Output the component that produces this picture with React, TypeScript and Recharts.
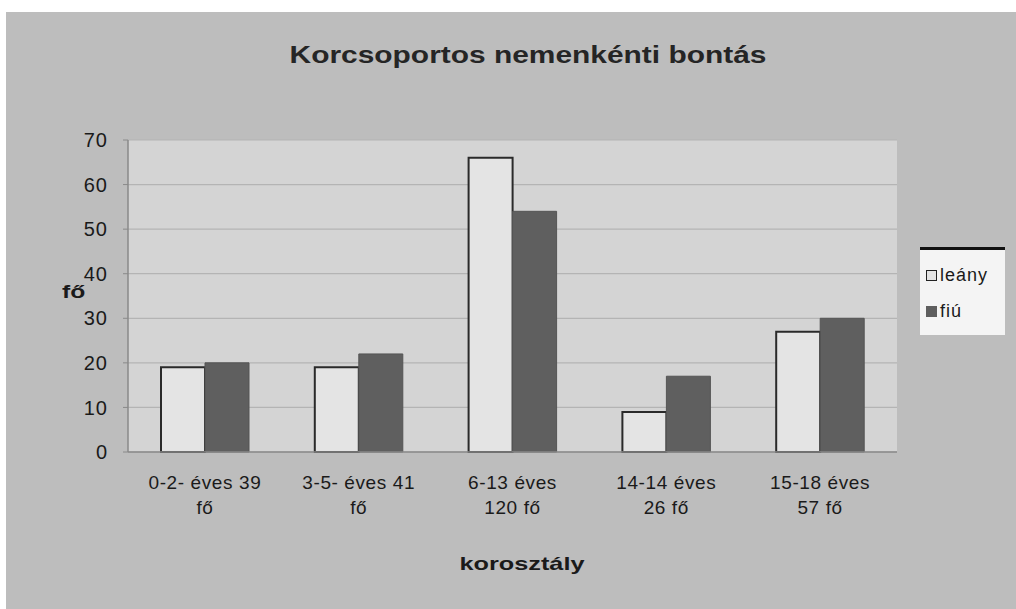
import React from "react";
import { BarChart, Bar, XAxis, YAxis, CartesianGrid } from "recharts";

const categories = [
  "0-2- éves 39\nfő",
  "3-5- éves 41\nfő",
  "6-13 éves\n120 fő",
  "14-14 éves\n26 fő",
  "15-18 éves\n57 fő",
];
const leany = [19, 19, 66, 9, 27];
const fiu = [20, 22, 54, 17, 30];
const yTicks = [0, 10, 20, 30, 40, 50, 60, 70];

const data = categories.map((cat, i) => ({ cat, leany: leany[i], fiu: fiu[i] }));

const FONT = "'Liberation Sans', Arial, sans-serif";

function CatTick({ x, y, payload }: any) {
  const lines = String(payload.value).split("\n");
  return (
    <text
      x={x}
      y={y}
      textAnchor="middle"
      fontFamily={FONT}
      fontSize={19}
      letterSpacing={0.6}
      fill="#1a1a1a"
    >
      {lines.map((l, i) => (
        <tspan key={i} x={x} dy={i === 0 ? 29 : 25}>
          {l}
        </tspan>
      ))}
    </text>
  );
}

function LegendBox() {
  const items = [
    { name: "leány", fill: "#e4e4e4", stroke: "#222" },
    { name: "fiú", fill: "#5e5e5e", stroke: "#5e5e5e" },
  ];
  return (
    <div
      style={{
        position: "absolute",
        left: 920,
        top: 247,
        width: 85,
        height: 88,
        background: "#f4f4f4",
        borderTop: "3px solid #111",
        fontFamily: FONT,
        fontSize: 18,
        letterSpacing: 1,
        color: "#1a1a1a",
        paddingTop: 7,
        boxSizing: "border-box",
      }}
    >
      {items.map((it) => (
        <div key={it.name} style={{ display: "flex", alignItems: "center", height: 36, paddingLeft: 6 }}>
          <span
            style={{
              display: "inline-block",
              width: 9,
              height: 9,
              background: it.fill,
              border: `1.5px solid ${it.stroke}`,
              marginRight: 3,
            }}
          />
          {it.name}
        </div>
      ))}
    </div>
  );
}

export default function App() {
  return (
    <div style={{ position: "absolute", left: 0, top: 0, width: 1016, height: 609, background: "#fff" }}>
      <div style={{ position: "absolute", left: 6, top: 12, width: 1010, height: 597, background: "#bdbdbd" }} />
      <div
        style={{
          position: "absolute",
          left: 0,
          top: 42,
          width: 1056,
          textAlign: "center",
          fontFamily: FONT,
          fontWeight: "bold",
          fontSize: 23,
          color: "#252525",
          transform: "scaleX(1.3)",
          transformOrigin: "528px 0",
        }}
      >
        Korcsoportos nemenkénti bontás
      </div>
      <div
        style={{
          position: "absolute",
          left: 62,
          top: 281,
          fontFamily: FONT,
          fontWeight: "bold",
          fontSize: 19,
          color: "#1a1a1a",
          transform: "scaleX(1.3)",
          transformOrigin: "0 0",
        }}
      >
        fő
      </div>
      <div
        style={{
          position: "absolute",
          left: 0,
          top: 553,
          width: 1044,
          textAlign: "center",
          fontFamily: FONT,
          fontWeight: "bold",
          fontSize: 19,
          color: "#1a1a1a",
          transform: "scaleX(1.33)",
          transformOrigin: "522px 0",
        }}
      >
        korosztály
      </div>
      <div style={{ position: "absolute", left: 0, top: 0 }}>
        <BarChart
          width={1016}
          height={609}
          data={data}
          margin={{ top: 140, right: 119, bottom: 97, left: 0 }}
          barGap={0}
          barCategoryGap={33}
        >
          <CartesianGrid vertical={false} fill="#d4d4d4" stroke="#b4b4b4" strokeWidth={1.2} />
          <XAxis
            dataKey="cat"
            height={60}
            tick={<CatTick />}
            tickLine={false}
            axisLine={{ stroke: "#8a8a8a", strokeWidth: 1.5 }}
            interval={0}
          />
          <YAxis
            width={128}
            domain={[0, 70]}
            ticks={yTicks}
            interval={0}
            tick={{ fontFamily: FONT, fontSize: 20, fill: "#1a1a1a", letterSpacing: 1 }}
            tickLine={{ stroke: "#8a8a8a" }}
            tickSize={5}
            tickMargin={15}
            axisLine={{ stroke: "#8a8a8a", strokeWidth: 1.5 }}
          />
          <Bar dataKey="leany" name="leány" fill="#e4e4e4" stroke="#2a2a2a" strokeWidth={2} isAnimationActive={false} />
          <Bar dataKey="fiu" name="fiú" fill="#5f5f5f" stroke="#555" strokeWidth={1} isAnimationActive={false} />
        </BarChart>
      </div>
      <LegendBox />
    </div>
  );
}
